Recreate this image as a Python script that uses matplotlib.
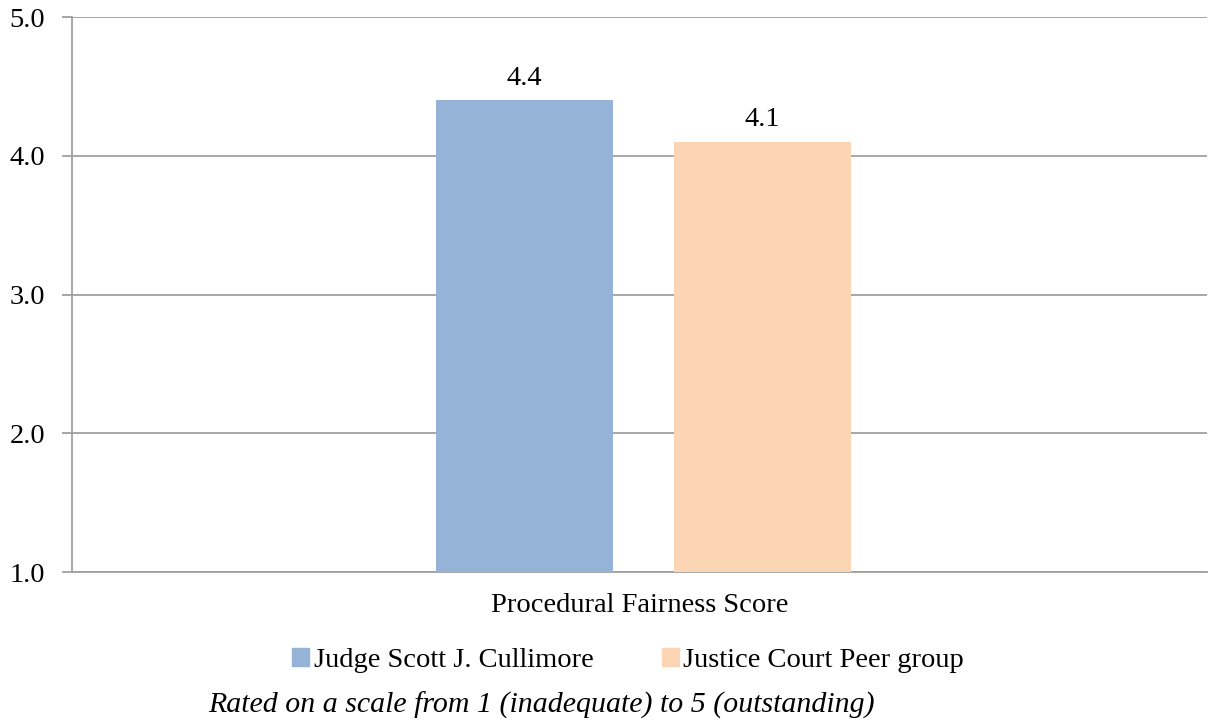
import matplotlib.pyplot as plt
from matplotlib.patches import Patch

categories = ['Procedural Fairness Score']
series_names = ['Judge Scott J. Cullimore', 'Justice Court Peer group']
series_values = [[4.4], [4.1]]
colors = ['#95b3d7', '#fcd5b5']
y_ticks = [1.0, 2.0, 3.0, 4.0, 5.0]

plt.rcParams['font.family'] = ['Liberation Serif', 'DejaVu Serif']
fs = 20.5

fig = plt.figure(figsize=(12.08, 7.27), dpi=100)
ax = fig.add_axes([0.0596, 0.2132, 0.9394, 0.7634])

width = 0.156
offsets = [-0.1013, 0.1083]
for name, vals, off, c in zip(series_names, series_values, offsets, colors):
    xs = [i + off for i in range(len(categories))]
    bars = ax.bar(xs, vals, width=width, color=c, label=name, zorder=3, bottom=0)
    for b, v in zip(bars, vals):
        ax.text(b.get_x() + b.get_width() / 2, v + 0.07, f'{v:.1f}',
                ha='center', va='bottom', fontsize=fs)

ax.set_xlim(-0.5, 0.5)
ax.set_ylim(1.0, 5.0)
ax.set_yticks(y_ticks)
ax.set_yticklabels([f'{t:.1f}' for t in y_ticks], fontsize=fs)
ax.set_xticks(range(len(categories)))
ax.set_xticklabels(categories, fontsize=fs)
ax.tick_params(axis='x', length=0, pad=15)
ax.tick_params(axis='y', length=7.2, width=1.3, color='#a0a0a0', pad=12)
ax.yaxis.grid(True, color='#a0a0a0', linewidth=1.3, zorder=0)
ax.set_axisbelow(True)
for s in ['top', 'right']:
    ax.spines[s].set_visible(False)
for s in ['left', 'bottom']:
    ax.spines[s].set_color('#a0a0a0')
    ax.spines[s].set_linewidth(1.3)

handles = [Patch(color=c) for c in colors]
fig.legend(handles, series_names, loc='center', bbox_to_anchor=(0.52, 0.092),
           ncol=2, frameon=False, fontsize=fs, handlelength=0.6, handleheight=0.6,
           handletextpad=0.15, columnspacing=2.4)

fig.text(0.448, 0.03, 'Rated on a scale from 1 (inadequate) to 5 (outstanding)',
         ha='center', va='center', fontsize=21.5, style='italic')

fig.savefig('out.png', dpi=100)
